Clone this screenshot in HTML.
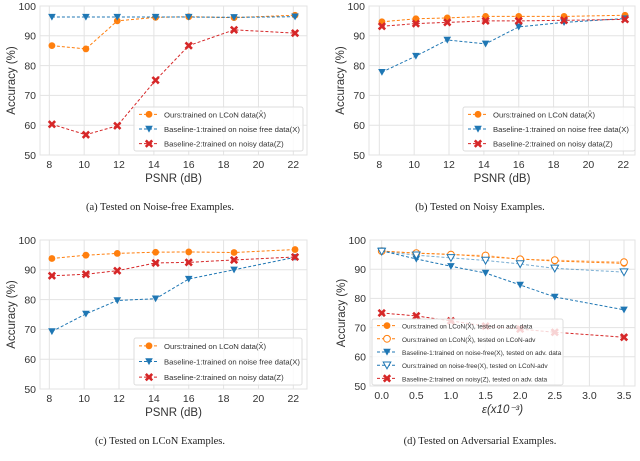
<!DOCTYPE html>
<html><head><meta charset="utf-8"><style>
body{margin:0;background:#fff;width:640px;height:461px;overflow:hidden}
svg{display:block;font-family:"Liberation Sans",sans-serif}
.cap{font-family:"Liberation Serif",serif;font-size:10.5px;fill:#222}
</style></head><body>
<svg id="fig" width="640" height="461" viewBox="0 0 640 461"></svg>
<script>
const psnrX = [8.15, 10.1, 11.9, 14.1, 16, 18.6, 22.1];
const psnrTicks = [8, 10, 12, 14, 16, 18, 20, 22];
const epsX = [0, 0.5, 1, 1.5, 2, 2.5, 3.5];
const epsTicks = ["0.0","0.5","1.0","1.5","2.0","2.5","3.0","3.5"];
const yTicks = [50, 60, 70, 80, 90, 100];
const aOurs = [86.7, 85.6, 95, 96.2, 96.4, 96.1, 96.9];
const aB1 = [96.3, 96.3, 96.3, 96.3, 96.3, 96.2, 96.4];
const aB2 = [60.3, 56.8, 59.8, 75.1, 86.7, 92, 90.9];
const bOurs = [94.7, 95.7, 96, 96.5, 96.5, 96.5, 96.9];
const bB1 = [77.8, 83.2, 88.6, 87.3, 93, 94.5, 95.8];
const bB2 = [93.2, 94.1, 94.5, 95, 95, 95.2, 95.5];
const cOurs = [93.8, 94.9, 95.5, 95.9, 96, 95.8, 96.8];
const cB1 = [69.3, 75.2, 79.7, 80.3, 86.9, 90, 94.2];
const cB2 = [88, 88.5, 89.7, 92.3, 92.5, 93.3, 94.3];
const dOursAdv = [96.2, 95.5, 95.1, 94.3, 93.5, 92.8, 92];
const dOursLcon = [96.2, 95.5, 95, 94.7, 93.4, 93.1, 92.4];
const dB1Adv = [96.3, 93.5, 91, 88.7, 84.6, 80.5, 76.1];
const dB1Lcon = [96.1, 94.8, 93.9, 93, 91.8, 90.3, 89];
const dB2Adv = [75, 74, 72.3, 70.5, 69.5, 68.4, 66.7];

const NS = "http://www.w3.org/2000/svg";
const svg = document.getElementById("fig");
const OR = "#ff7f0e", BL = "#1f77b4", RD = "#d62728";
function mk(tag, attrs, parent) {
  const e = document.createElementNS(NS, tag);
  for (const k in attrs) e.setAttribute(k, attrs[k]);
  (parent || svg).appendChild(e);
  return e;
}
function txt(s, attrs, parent) { const e = mk("text", attrs, parent); e.textContent = s; return e; }

function marker(g, shape, x, y, color, hollow) {
  let m;
  if (shape === "o") m = mk("circle", {cx:x, cy:y, r:3.4}, g);
  else if (shape === "v") m = mk("path", {d:`M${x-3.8},${y-3.2} L${x+3.8},${y-3.2} L${x},${y+3.6} Z`}, g);
  else m = mk("path", {d:`M${x-3.2},${y-3.2} L${x+3.2},${y+3.2} M${x+3.2},${y-3.2} L${x-3.2},${y+3.2}`, "stroke-width":2.6, stroke:color}, g);
  if (shape !== "x") {
    if (hollow) { m.setAttribute("fill", "#fff"); m.setAttribute("stroke", color); m.setAttribute("stroke-width", 1); }
    else m.setAttribute("fill", color);
  }
  
  
  return m;
}

function panel(p) {
  const g = mk("g", {}, svg);
  
  
  const sx = v => p.x0 + (v - p.t0) * (p.x1 - p.x0) / (p.t1 - p.t0);
  const sy = v => p.yb + (v - 50) * (p.yt - p.yb) / 50;
  mk("rect", {x:p.L, y:p.yt, width:p.R - p.L, height:p.yb - p.yt, fill:"#fff"}, g);
  p.xt.forEach((t, i) => {
    const x = sx(p.xv[i]);
    const l = mk("line", {x1:x, x2:x, y1:p.yt, y2:p.yb, stroke:"#e3e3e3", "stroke-width":1}, g);
    
    
    const tl = txt(t, {x:x, y:p.yb + 13, "font-size":10.5, fill:"#333", "text-anchor":"middle"}, g);
    
    
  });
  yTicks.forEach(t => {
    const y = sy(t);
    const l = mk("line", {x1:p.L, x2:p.R, y1:y, y2:y, stroke:"#e3e3e3", "stroke-width":1}, g);
    
    
    const tl = txt(String(t), {x:p.L - 4, y:y + 3.8, "font-size":10.5, fill:"#333", "text-anchor":"end"}, g);
    
    
  });
  mk("rect", {x:p.L, y:p.yt, width:p.R - p.L, height:p.yb - p.yt, fill:"none", stroke:"#e3e3e3"}, g);
  const yl = txt("Accuracy (%)", {x:0, y:0, "font-size":11.5, fill:"#333", "text-anchor":"middle", transform:`translate(${p.L - 25},${(p.yt + p.yb) / 2}) rotate(-90)`}, g);
  
  
  const xl = txt(p.xlabel, {x:(p.L + p.R) / 2, y:p.yb + 27, "font-size":11.5, fill:"#333", "text-anchor":"middle", "font-style":p.xitalic ? "italic" : "normal"}, g);
  
  
  p.series.forEach(s => {
    const pts = s.vals.map((v, i) => [sx(p.px[i]), sy(v)]);
    const pl = mk("polyline", {points:pts.map(q => q.join(",")).join(" "), fill:"none", stroke:s.c, "stroke-width":1, "stroke-dasharray":"3,2", opacity:s.hollow ? 0.6 : 1}, g);
    
    
    pts.forEach(q => marker(g, s.m, q[0], q[1], s.c, s.hollow));
  });
  const lg = mk("g", {}, g);
  
  
  const lb = p.leg;
  mk("rect", {x:lb[0], y:lb[1], width:lb[2] - lb[0], height:lb[3] - lb[1], fill:"rgba(255,255,255,0.8)", stroke:"#ddd", rx:2}, lg);
  const n = p.series.length, step = (lb[3] - lb[1]) / n;
  p.series.forEach((s, i) => {
    const y = lb[1] + step * (i + 0.5);
    mk("line", {x1:lb[0] + 5, x2:lb[0] + 25, y1:y, y2:y, stroke:s.c, "stroke-dasharray":"3,2"}, lg);
    marker(lg, s.m, lb[0] + 15, y, s.c, s.hollow);
    const t = txt(s.label, {x:lb[0] + 30, y:y + 3, "font-size":p.lfs, fill:"#333"}, lg);
    
    
  });
  const cap = txt(p.cap, {x:p.capx, y:p.capy, class:"cap", "text-anchor":"middle"}, svg);
  
  
}

const L3 = ["Ours:trained on LCoN data(X\u0302)", "Baseline-1:trained on noise free data(X)", "Baseline-2:trained on noisy data(Z)"];
function psnrSeries(o, b1, b2) {
  return [{vals:o, c:OR, m:"o", label:L3[0]}, {vals:b1, c:BL, m:"v", label:L3[1]}, {vals:b2, c:RD, m:"x", label:L3[2]}];
}
panel({name:"panel-a", L:40, R:307, yt:6, yb:155, x0:49.3, x1:293.3, t0:8, t1:22, xt:psnrTicks, xv:psnrTicks, px:psnrX, xlabel:"PSNR (dB)",
  series:psnrSeries(aOurs, aB1, aB2), leg:[134, 107, 303, 151], lfs:7.7, cap:"(a) Tested on Noise-free Examples.", capx:160, capy:210});
panel({name:"panel-b", L:369, R:635, yt:6, yb:155, x0:379.3, x1:623.3, t0:8, t1:22, xt:psnrTicks, xv:psnrTicks, px:psnrX, xlabel:"PSNR (dB)",
  series:psnrSeries(bOurs, bB1, bB2), leg:[463, 107, 635, 151], lfs:7.7, cap:"(b) Tested on Noisy Examples.", capx:480, capy:210});
panel({name:"panel-c", L:40, R:307, yt:240, yb:389, x0:49.3, x1:293.3, t0:8, t1:22, xt:psnrTicks, xv:psnrTicks, px:psnrX, xlabel:"PSNR (dB)",
  series:psnrSeries(cOurs, cB1, cB2), leg:[134, 338, 302, 385], lfs:7.7, cap:"(c) Tested on LCoN Examples.", capx:160, capy:444});
panel({name:"panel-d", L:370, R:635, yt:240, yb:386, x0:381.7, x1:624, t0:0, t1:3.5, xt:epsTicks, xv:[0,0.5,1,1.5,2,2.5,3,3.5], px:epsX, xlabel:"\u03b5(x10\u207b\u00b3)", xitalic:true,
  series:[
    {vals:dOursAdv, c:OR, m:"o", label:"Ours:trained on LCoN(X\u0302), tested on adv. data"},
    {vals:dOursLcon, c:OR, m:"o", hollow:true, label:"Ours:trained on LCoN(X\u0302), tested on LCoN-adv"},
    {vals:dB1Adv, c:BL, m:"v", label:"Baseline-1:trained on noise-free(X), tested on adv. data"},
    {vals:dB1Lcon, c:BL, m:"v", hollow:true, label:"Ours:trained on noise-free(X), tested on LCoN-adv"},
    {vals:dB2Adv, c:RD, m:"x", label:"Baseline-2:trained on noisy(Z), tested on adv. data"}],
  leg:[372, 319, 563, 385], lfs:6.5, cap:"(d) Tested on Adversarial Examples.", capx:480, capy:444});
</script>
</body></html>
